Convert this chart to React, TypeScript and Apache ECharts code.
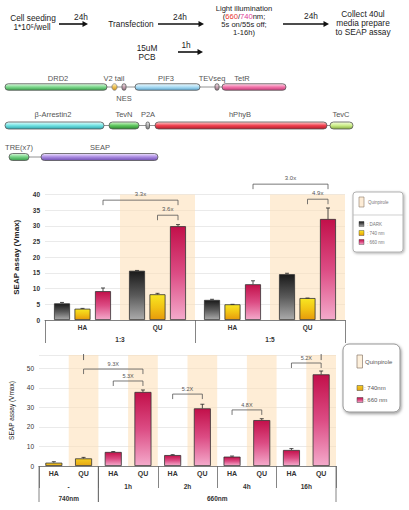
import React, { useEffect, useRef } from 'react';
import * as echarts from 'echarts';

const FONT = '"Liberation Sans", Arial, sans-serif';

// ---------- Chart 1 data ----------
const c1Categories = ['HA', 'QU', 'HA', 'QU'];
const c1Groups = ['1:3', '1:5'];
const c1Dark = [5.3, 15.7, 6.4, 14.6];
const c1DarkErr = [5.6, 15.8, 6.6, 14.9];
const c1Y740 = [3.6, 8.2, 5.0, 7.0];
const c1Y740Err = [3.7, 8.5, 5.0, 7.0];
const c1R660 = [9.2, 29.9, 11.4, 32.2];
const c1R660Err = [10.2, 30.4, 12.5, 35.7];
const c1Max = 40;
const c1Quin = [null, c1Max, null, c1Max];
const c1BracketLabels = ['3.3x', '3.6x', '3.0x', '4.9x'];
const c1BracketFrom = [[0, 2], [1, 1], [2, 2], [3, 1]];
const c1BracketTo = [[1, 2], [1, 2], [3, 2], [3, 2]];
const c1BracketLevel = [38.2, 33.4, 43.3, 38.5];

// ---------- Chart 2 data ----------
const c2Categories = ['HA', 'QU', 'HA', 'QU', 'HA', 'QU', 'HA', 'QU', 'HA', 'QU'];
const c2Times = ['-', '1h', '2h', '4h', '16h'];
const c2Lights = ['740nm', '660nm'];
const c2LightSpan = [[0, 1], [2, 9]];
const c2Y740 = [1.7, 3.9, null, null, null, null, null, null, null, null];
const c2Y740Err = [2.2, 4.4, null, null, null, null, null, null, null, null];
const c2R660 = [null, null, 7.2, 37.9, 5.6, 29.5, 4.8, 23.5, 8.2, 46.9];
const c2R660Err = [null, null, 7.4, 38.9, 5.8, 31.6, 5.1, 24.2, 8.9, 48.6];
const c2Max = 56.8;
const c2Quin = [null, c2Max, null, c2Max, null, c2Max, null, c2Max, null, c2Max];
const c2BracketLabels = ['9.3X', '5.3X', '5.2X', '4.8X', '5.2X'];
const c2BracketFrom = [1, 2, 4, 6, 8];
const c2BracketTo = [3, 3, 5, 7, 9];
const c2BracketLevel = [49.6, 43.5, 36.8, 28.7, 52.7];
const c2Stubs = [1, 9];
const c2StubRange = [54.2, 57.3];

const grad = (stops: string[]) => ({
  type: 'linear', x: 0, y: 0, x2: 0, y2: 1,
  colorStops: stops.map((c, i) => ({ offset: i / (stops.length - 1), color: c })),
});

const DARK = grad(['#1a1a1a', '#5a5a5a', '#ababab']);
const YELLOW = grad(['#f8e622', '#f2c414', '#e69a0c']);
const PINK = grad(['#c2104a', '#dc4c84', '#f4aacb']);
const YELLOW2 = grad(['#f4cc22', '#e6a614']);

const T = (x: number, y: number, text: string, opts: any = {}) => ({
  type: 'text', x, y, silent: true,
  style: {
    text, fill: '#222', fontSize: 8.3, fontFamily: FONT,
    align: 'center', verticalAlign: 'middle', textAlign: 'center', textVerticalAlign: 'middle',
    ...opts,
  },
});
const TL = (x: number, y: number, text: string, opts: any = {}) =>
  T(x, y, text, { align: 'left', textAlign: 'left', ...opts });

const arrow = (x1: number, x2: number, y: number) => [
  { type: 'line', shape: { x1, y1: y, x2: x2 - 4, y2: y }, style: { stroke: '#111', lineWidth: 1.6 } },
  { type: 'polygon', shape: { points: [[x2, y], [x2 - 5.5, y - 3], [x2 - 5.5, y + 3]] }, style: { fill: '#111' } },
];

const pill = (x1: number, x2: number, yc: number, h: number, stops: string[]) => ({
  type: 'rect',
  shape: { x: x1, y: yc - h / 2, width: x2 - x1, height: h, r: h / 2 },
  style: { fill: grad(stops), stroke: '#555', lineWidth: 0.8 },
});
const conn = (x1: number, x2: number, y: number) => ({
  type: 'line', shape: { x1, y1: y, x2, y2: y }, style: { stroke: '#777', lineWidth: 0.8 },
});

const LBL = { fontSize: 7.5, fill: '#555' };
const ILL = { fontSize: 7.6 };

const flowGraphics: any[] = [
  T(33, 18, 'Cell seeding'),
  T(32, 27, '1*10\u2075/well'),
  ...arrow(59, 88, 24),
  T(81, 17, '24h'),
  T(131, 24, 'Transfection'),
  ...arrow(158, 204, 24),
  T(180, 17, '24h'),
  T(244, 8, 'Light illumination', ILL),
  T(244, 16, '({r|660}/{m|740}nm;', {
    ...ILL,
    rich: {
      r: { fill: '#e8332a', fontSize: 7.6, fontFamily: FONT },
      m: { fill: '#e0409a', fontSize: 7.6, fontFamily: FONT },
    },
  }),
  T(244, 24, '5s on/55s off;', ILL),
  T(244, 32, '1-16h)', ILL),
  ...arrow(283, 329, 24),
  T(311, 16, '24h'),
  T(363, 14, 'Collect 40ul'),
  T(363, 23, 'media prepare'),
  T(363, 32, 'to SEAP assay'),
  T(147, 48, '15uM'),
  T(147, 57, 'PCB'),
  ...arrow(178, 203, 52),
  T(186, 45, '1h'),
];

const constructGraphics: any[] = [
  // row 1
  conn(100, 230, 87),
  pill(5, 107, 87, 6.5, ['#e2fae4', '#7cd88c', '#3a9e4a']),
  { type: 'ellipse', shape: { cx: 114.5, cy: 87, rx: 2.6, ry: 3.3 }, style: { fill: grad(['#fff2c8', '#f0c454', '#c88e22']), stroke: '#666', lineWidth: 0.6 } },
  pill(122, 126, 87, 6.5, ['#f4e4ea', '#c8a4b2', '#8e6e7c']),
  pill(135, 200, 87, 6.5, ['#eefaff', '#aadcf4', '#5ea6ce']),
  pill(215, 219, 87, 6.5, ['#f4e4ea', '#c8a4b2', '#8e6e7c']),
  pill(222, 286, 87, 6.5, ['#ffdcea', '#f274aa', '#c43a78']),
  T(58, 78, 'DRD2', LBL),
  T(114, 78, 'V2 tail', LBL),
  T(124, 98, 'NES', LBL),
  T(166, 78, 'PIF3', LBL),
  T(212, 78, 'TEVseq', LBL),
  T(242, 78, 'TetR', LBL),
  // row 2
  conn(100, 335, 125.5),
  pill(5, 104, 125.5, 7, ['#e4ffff', '#74e2e2', '#2ea6ae']),
  pill(109, 139, 125.5, 7, ['#d8fad0', '#62c862', '#2a882e']),
  pill(146, 149.5, 125.5, 7, ['#eeeeee', '#b4b4b4', '#7a7a7a']),
  pill(155, 327, 125.5, 7, ['#ffd0d0', '#f04452', '#b41828']),
  pill(330, 353, 125.5, 7, ['#f6ffdc', '#ccec8a', '#86ae40']),
  T(53, 114, '\u03b2-Arrestin2', LBL),
  T(124, 114, 'TevN', LBL),
  T(148, 114, 'P2A', LBL),
  T(240, 114, 'hPhyB', LBL),
  T(341, 114, 'TevC', LBL),
  // row 3
  conn(25, 45, 157),
  pill(9, 29, 157, 7, ['#dcfadc', '#72d282', '#389a48']),
  pill(41, 158, 157, 7, ['#f0e4ff', '#aa8ae2', '#6e4eae']),
  T(19, 147, 'TRE(x7)', LBL),
  T(100, 147, 'SEAP', LBL),
];

const legendGraphics: any[] = [
  // legend 1
  {
    type: 'rect', shape: { x: 353, y: 192, width: 50, height: 60, r: 3 },
    style: { fill: '#fff', stroke: '#a0a0a0', lineWidth: 0.8, shadowBlur: 3, shadowColor: 'rgba(0,0,0,0.35)', shadowOffsetX: 1, shadowOffsetY: 1 },
  },
  { type: 'rect', shape: { x: 359, y: 197, width: 5, height: 10 }, style: { fill: '#fdecd6', stroke: '#8a7a6a', lineWidth: 0.6 } },
  TL(368, 202, 'Quinpirole', { fontSize: 4.5, fill: '#777' }),
  { type: 'line', shape: { x1: 353, y1: 215, x2: 403, y2: 215 }, style: { stroke: '#bbb', lineWidth: 0.7 } },
  { type: 'rect', shape: { x: 359, y: 221.5, width: 5, height: 5 }, style: { fill: DARK, stroke: '#333', lineWidth: 0.4 } },
  TL(367, 224, ': DARK', { fontSize: 4.5, fill: '#777' }),
  { type: 'rect', shape: { x: 359, y: 230.5, width: 5, height: 5 }, style: { fill: YELLOW, stroke: '#333', lineWidth: 0.4 } },
  TL(367, 233, ': 740 nm', { fontSize: 4.5, fill: '#777' }),
  { type: 'rect', shape: { x: 359, y: 239.5, width: 5, height: 5 }, style: { fill: PINK, stroke: '#333', lineWidth: 0.4 } },
  TL(367, 242, ': 660 nm', { fontSize: 4.5, fill: '#777' }),
  // legend 2
  {
    type: 'rect', shape: { x: 343, y: 344, width: 57, height: 68, r: 6 },
    style: { fill: '#fff', stroke: '#8a8a8a', lineWidth: 0.9, shadowBlur: 3, shadowColor: 'rgba(0,0,0,0.4)', shadowOffsetX: 1, shadowOffsetY: 1.5 },
  },
  { type: 'rect', shape: { x: 357, y: 355, width: 5.5, height: 13 }, style: { fill: '#fdf0dc', stroke: '#8a7a6a', lineWidth: 0.7 } },
  TL(365, 361.5, 'Quinpirole', { fontSize: 6, fill: '#555' }),
  { type: 'rect', shape: { x: 357, y: 385.5, width: 6, height: 5 }, style: { fill: YELLOW2, stroke: '#444', lineWidth: 0.5 } },
  TL(364, 388, ': 740nm', { fontSize: 6, fill: '#555' }),
  { type: 'rect', shape: { x: 357, y: 397.5, width: 6, height: 5 }, style: { fill: PINK, stroke: '#444', lineWidth: 0.5 } },
  TL(364, 400, ': 660 nm', { fontSize: 6, fill: '#555' }),
];

// ----- helpers for custom series -----
const errData = (vals: (number | null)[], errs: (number | null)[], slot: number) =>
  vals.map((v, i) => (v == null || errs[i] == null ? null : [i, slot, v, errs[i]])).filter(Boolean) as number[][];

const makeErrRender = (slotStep: number, center: number) => (params: any, api: any) => {
  const cat = api.value(0);
  const slot = api.value(1);
  const p = api.coord([cat, api.value(2)]);
  const q = api.coord([cat, api.value(3)]);
  const x = p[0] + (slot - center) * slotStep;
  return {
    type: 'group',
    children: [
      { type: 'line', shape: { x1: x, y1: p[1], x2: x, y2: q[1] }, style: { stroke: '#222', lineWidth: 0.8 } },
      { type: 'line', shape: { x1: x - 2, y1: q[1], x2: x + 2, y2: q[1] }, style: { stroke: '#222', lineWidth: 0.8 } },
    ],
  };
};

const makeBracketRender = (labels: string[], slotStep: number, drop: number, textGap: number, fontSize: number) =>
  (params: any, api: any) => {
    const a = api.coord([api.value(0), api.value(4)]);
    const b = api.coord([api.value(2), api.value(4)]);
    const xa = a[0] + (api.value(1) - 1) * slotStep;
    const xb = b[0] + (api.value(3) - 1) * slotStep;
    const y = a[1];
    return {
      type: 'group',
      children: [
        {
          type: 'polyline',
          shape: { points: [[xa, y + drop], [xa, y], [xb, y], [xb, y + drop]] },
          style: { stroke: '#555', lineWidth: 0.8, fill: 'none' },
        },
        {
          type: 'text', x: (xa + xb) / 2, y: y - textGap,
          style: {
            text: labels[params.dataIndex], fill: '#555', fontSize, fontFamily: FONT,
            align: 'center', verticalAlign: 'middle', textAlign: 'center', textVerticalAlign: 'middle',
          },
        },
      ],
    };
  };

const option: any = {
  animation: false,
  backgroundColor: '#ffffff',
  textStyle: { fontFamily: FONT },
  graphic: { elements: [...flowGraphics, ...constructGraphics, ...legendGraphics] },
  grid: [
    { left: 45, top: 194.5, width: 300, height: 125.5 },
    { left: 38, top: 355, width: 298, height: 111 },
  ],
  xAxis: [
    {
      gridIndex: 0, type: 'category', data: c1Categories, position: 'bottom',
      axisLine: { lineStyle: { color: '#666', width: 0.8 } }, axisTick: { show: false },
      axisLabel: { margin: 4, fontSize: 6.5, fontWeight: 'bold', color: '#333' },
    },
    {
      gridIndex: 0, type: 'category', data: c1Groups, position: 'bottom',
      axisLine: { show: false }, axisTick: { show: true, length: 23, lineStyle: { color: '#666', width: 0.8 } },
      axisLabel: { margin: 15.5, fontSize: 6.5, fontWeight: 'bold', color: '#333' },
    },
    { gridIndex: 0, type: 'category', data: c1Categories, show: false },
    {
      gridIndex: 1, type: 'category', data: c2Categories, position: 'bottom',
      axisLine: { lineStyle: { color: '#666', width: 0.8 } }, axisTick: { show: false },
      axisLabel: { margin: 3.5, fontSize: 7, fontWeight: 'bold', color: '#333', interval: 0 },
    },
    {
      gridIndex: 1, type: 'category', data: c2Times, position: 'bottom',
      axisLine: { show: false }, axisTick: { show: true, length: 22, lineStyle: { color: '#666', width: 0.8 } },
      axisLabel: { margin: 16.5, fontSize: 6.5, fontWeight: 'bold', color: '#333' },
    },
    { gridIndex: 1, type: 'category', data: c2Categories, show: false },
  ],
  yAxis: [
    {
      gridIndex: 0, type: 'value', min: 0, max: c1Max, interval: 5,
      axisLine: { show: false }, axisTick: { show: false },
      splitLine: { lineStyle: { color: '#e4e4e4', width: 0.8 } },
      axisLabel: { margin: 5, fontSize: 6.5, fontWeight: 'bold', color: '#333' },
      name: 'SEAP assay (Vmax)', nameLocation: 'middle', nameGap: 25, nameRotate: 90,
      nameTextStyle: { fontSize: 8, fontWeight: 'bold', color: '#222' },
    },
    {
      gridIndex: 1, type: 'value', min: 0, max: c2Max, interval: 10,
      axisLine: { show: false }, axisTick: { show: false },
      splitLine: { lineStyle: { color: '#e4e4e4', width: 0.8 } },
      axisLabel: { margin: 5, fontSize: 6.5, color: '#333', showMaxLabel: false },
      name: 'SEAP assay (Vmax)', nameLocation: 'middle', nameGap: 24, nameRotate: 90,
      nameTextStyle: { fontSize: 6.5, color: '#222' },
    },
  ],
  series: [
    // chart 1
    {
      name: 'Quinpirole', type: 'bar', xAxisIndex: 2, yAxisIndex: 0, data: c1Quin,
      barWidth: '100%', silent: true, z: 1,
      itemStyle: { color: 'rgba(253,222,180,0.55)' },
    },
    {
      name: 'DARK', type: 'bar', xAxisIndex: 0, yAxisIndex: 0, data: c1Dark, barWidth: 16, barGap: '28%', z: 3,
      itemStyle: { color: DARK, borderColor: '#333', borderWidth: 0.8 },
    },
    {
      name: '740 nm', type: 'bar', xAxisIndex: 0, yAxisIndex: 0, data: c1Y740, barWidth: 16, barGap: '28%', z: 3,
      itemStyle: { color: YELLOW, borderColor: '#333', borderWidth: 0.8 },
    },
    {
      name: '660 nm', type: 'bar', xAxisIndex: 0, yAxisIndex: 0, data: c1R660, barWidth: 16, barGap: '28%', z: 3,
      itemStyle: { color: PINK, borderColor: '#333', borderWidth: 0.8 },
    },
    {
      type: 'custom', xAxisIndex: 0, yAxisIndex: 0, z: 4, clip: false, silent: true,
      encode: { x: 0, y: 2 },
      data: [...errData(c1Dark, c1DarkErr, 0), ...errData(c1Y740, c1Y740Err, 1), ...errData(c1R660, c1R660Err, 2)],
      renderItem: makeErrRender(20.5, 1),
    },
    {
      type: 'custom', xAxisIndex: 0, yAxisIndex: 0, z: 5, clip: false, silent: true,
      encode: { x: 0, y: 4 },
      data: c1BracketLabels.map((_, i) => [c1BracketFrom[i][0], c1BracketFrom[i][1], c1BracketTo[i][0], c1BracketTo[i][1], c1BracketLevel[i]]),
      renderItem: makeBracketRender(c1BracketLabels, 20.5, 5, 6, 6),
    },
    // chart 2
    {
      name: 'Quinpirole', type: 'bar', xAxisIndex: 5, yAxisIndex: 1, data: c2Quin,
      barWidth: '100%', silent: true, z: 1,
      itemStyle: { color: 'rgba(253,222,180,0.55)' },
    },
    {
      name: '740nm', type: 'bar', xAxisIndex: 3, yAxisIndex: 1, data: c2Y740, barWidth: 17, barGap: '-100%', z: 3,
      itemStyle: { color: YELLOW2, borderColor: '#333', borderWidth: 0.8 },
    },
    {
      name: '660 nm', type: 'bar', xAxisIndex: 3, yAxisIndex: 1, data: c2R660, barWidth: 17, barGap: '-100%', z: 3,
      itemStyle: { color: PINK, borderColor: '#333', borderWidth: 0.8 },
    },
    {
      type: 'custom', xAxisIndex: 3, yAxisIndex: 1, z: 4, clip: false, silent: true,
      encode: { x: 0, y: 2 },
      data: [...errData(c2Y740, c2Y740Err, 0), ...errData(c2R660, c2R660Err, 0)],
      renderItem: makeErrRender(0, 0),
    },
    {
      type: 'custom', xAxisIndex: 3, yAxisIndex: 1, z: 5, clip: false, silent: true,
      encode: { x: 0, y: 4 },
      data: c2BracketLabels.map((_, i) => [c2BracketFrom[i], 1, c2BracketTo[i], 1, c2BracketLevel[i]]),
      renderItem: makeBracketRender(c2BracketLabels, 0, 5, 5, 5.5),
    },
    {
      type: 'custom', xAxisIndex: 3, yAxisIndex: 1, z: 5, clip: false, silent: true,
      encode: { x: 0, y: [1, 2] },
      data: c2Stubs.map((c) => [c, c2StubRange[0], c2StubRange[1]]),
      renderItem: (params: any, api: any) => {
        const a = api.coord([api.value(0), api.value(1)]);
        const b = api.coord([api.value(0), api.value(2)]);
        return { type: 'line', shape: { x1: a[0], y1: a[1], x2: b[0], y2: b[1] }, style: { stroke: '#555', lineWidth: 0.9 } };
      },
    },
    {
      type: 'custom', xAxisIndex: 3, yAxisIndex: 1, z: 5, clip: false, silent: true,
      encode: { x: [0, 1], y: 2 },
      data: c2LightSpan.map((s) => [s[0], s[1], 0]),
      renderItem: (params: any, api: any) => {
        const a = api.coord([api.value(0), 0]);
        const b = api.coord([api.value(1), 0]);
        const bw = api.size([1, 0])[0];
        const x0 = a[0] - bw / 2;
        const x1 = b[0] + bw / 2;
        const y = a[1];
        return {
          type: 'group',
          children: [
            { type: 'line', shape: { x1: x0, y1: y, x2: x0, y2: y + 36 }, style: { stroke: '#666', lineWidth: 0.8 } },
            { type: 'line', shape: { x1: x1, y1: y, x2: x1, y2: y + 36 }, style: { stroke: '#666', lineWidth: 0.8 } },
            {
              type: 'text', x: (x0 + x1) / 2, y: y + 32,
              style: {
                text: c2Lights[params.dataIndex], fill: '#333', fontSize: 6.5, fontWeight: 'bold', fontFamily: FONT,
                align: 'center', verticalAlign: 'middle', textAlign: 'center', textVerticalAlign: 'middle',
              },
            },
          ],
        };
      },
    },
  ],
};

export default function App() {
  const ref = useRef<HTMLDivElement>(null);
  useEffect(() => {
    if (!ref.current) return;
    const chart = echarts.init(ref.current, null, { renderer: 'svg' });
    chart.setOption(option);
    return () => chart.dispose();
  }, []);
  return (
    <div
      ref={ref}
      style={{ position: 'absolute', left: 0, top: 0, width: 409, height: 510, background: '#fff' }}
    />
  );
}
